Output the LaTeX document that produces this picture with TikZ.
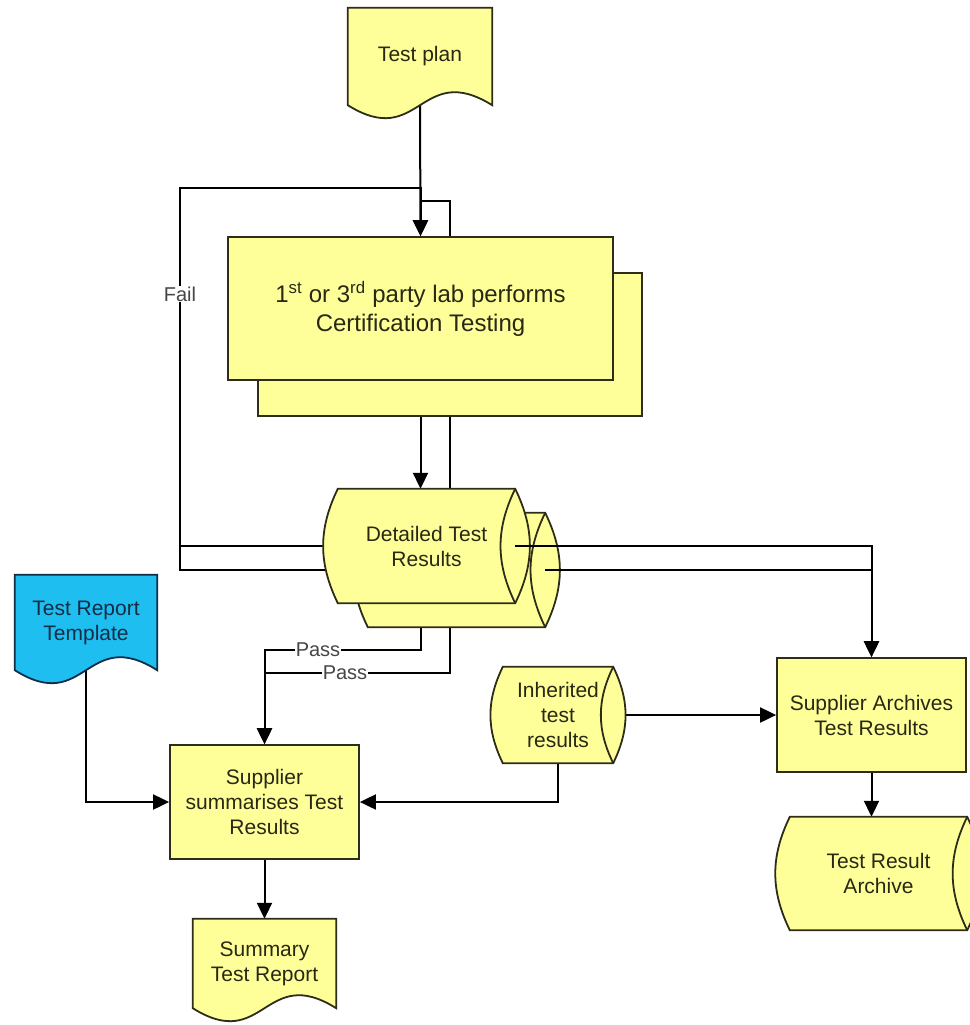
\documentclass[tikz,border=0pt]{standalone}
\usepackage{fontspec}
\setmainfont{Liberation Sans}
\usetikzlibrary{arrows.meta}
\usetikzlibrary{calc}
\usetikzlibrary{backgrounds}
\definecolor{noteyellow}{RGB}{255,255,153}
\definecolor{templblue}{RGB}{30,190,240}
\definecolor{edgeolive}{RGB}{45,45,25}
\definecolor{inkdark}{RGB}{40,40,20}
\definecolor{inknavy}{RGB}{20,45,70}
\definecolor{labelgray}{RGB}{70,70,70}
\pgfdeclarelayer{lines}
\pgfdeclarelayer{shapes}
\pgfsetlayers{background,lines,shapes,main}
% document outline with a wavy bottom edge
\newcommand{\docshape}[2]{%
    \filldraw[shapeline,#2] (#1.north west) -- (#1.north east) -- (#1.south east)
        .. controls ($(#1.south)+(0,-45)$) and ($(#1.south)+(0,45)$) .. (#1.south west) -- cycle;}
% lying drum, lens at the right end
\newcommand{\drumshape}[1]{%
    \filldraw[shapeline,fill=noteyellow] (#1.north west) -- (#1.north east) to[bend left=26] (#1.south east)
        -- (#1.south west) to[bend left=26] (#1.north west) -- cycle;
    \draw[shapeline] (#1.north east) to[bend right=26] (#1.south east);}

\begin{document}
\begin{tikzpicture}[x=1pt,y=-1pt,
        font=\fontsize{21}{25}\selectfont,
        shapeline/.style={draw=edgeolive,line width=1.8pt},
        docnode/.style={align=center,text=inkdark,inner sep=0pt},
        boxnode/.style={shapeline,fill=noteyellow,align=center,text=inkdark,inner sep=0pt},
        flow/.style={line width=2pt,-{Triangle[length=16pt,width=15pt]}},
        lbl/.style={fill=white,text=labelgray,inner sep=1pt,font=\fontsize{20}{24}\selectfont}]
        \useasboundingbox (0,0) rectangle (969,1025);
        \begin{pgfonlayer}{background}
            \fill[white] (0,0) rectangle (969,1025);
        \end{pgfonlayer}

        \node[docnode,minimum width=144pt,minimum height=97pt] (plan) at (420,56.5) {Test plan};
        \node[boxnode,minimum width=384pt,minimum height=143pt] (labback) at (450,344.5) {};
        \node[boxnode,minimum width=385pt,minimum height=143pt,font=\fontsize{24}{29}\selectfont] (lab) at (420.5,308.5)
            {1\textsuperscript{st} or 3\textsuperscript{rd} party lab performs\\Certification Testing};
        \node[docnode,minimum width=177pt,minimum height=114pt] (detback) at (456.5,570) {};
        \node[docnode,minimum width=177pt,minimum height=114pt] (det) at (426.5,546) {Detailed Test\\Results};
        \node[docnode,minimum width=142pt,minimum height=95pt,text=inknavy] (tmpl) at (86,622.5) {Test Report\\Template};
        \node[boxnode,minimum width=189pt,minimum height=114pt] (summ) at (264.5,802) {Supplier\\summarises Test\\Results};
        \node[docnode,minimum width=143pt,minimum height=89pt] (report) at (264.5,963.5) {Summary\\Test Report};
        \node[docnode,minimum width=110pt,minimum height=96pt] (inh) at (558,715) {Inherited\\test\\results};
        \node[boxnode,minimum width=189pt,minimum height=114pt] (arch) at (871.5,715) {Supplier Archives\\Test Results};
        \node[docnode,minimum width=177pt,minimum height=113pt] (store) at (878.5,873.5) {Test Result\\Archive};

        \begin{pgfonlayer}{shapes}
            \docshape{plan}{fill=noteyellow}
            \docshape{tmpl}{fill=templblue,draw=inknavy}
            \docshape{report}{fill=noteyellow}
            \drumshape{detback}
            \drumshape{det}
            \drumshape{inh}
            \drumshape{store}
        \end{pgfonlayer}

        \begin{pgfonlayer}{lines}
            \coordinate (failx) at (180,188);
            \draw[flow] (plan.south) -- (lab.north);
            \draw[flow] (det.west) -| (failx) -| (lab.north);
            \draw[flow] (detback.west) -| (failx) -- (failx -| lab.north) -- ++(0,13) -| (labback.north);
            \draw[flow] (lab.south) -- (lab.south |- det.north);
            \draw[flow] (labback.south) -- (labback.south |- detback.north);
            \draw[flow] (lab.south |- det.south) -- ++(0,47) -| (summ.north);
            \draw[flow] (labback.south |- detback.south) -- ++(0,46) -| (summ.north);
            \draw[flow] (tmpl.south) |- (summ.west);
            \draw[flow] (inh.south) |- (summ.east);
            \draw[flow] (inh.east) -- (arch.west);
            \draw[flow] (arch.south) -- (arch.south |- store.north);
            \draw[flow] (summ.south) -- (report.north);
        \end{pgfonlayer}
        \draw[flow] (det.east) -| (arch.north);
        \draw[flow] (detback.east) -| (arch.north);

        \node[lbl] (fail) at (180,294) {Fail};
        \node[lbl] (pass1) at (318,650) {Pass};
        \node[lbl] (pass2) at (345,673) {Pass};
\end{tikzpicture}
\end{document}
